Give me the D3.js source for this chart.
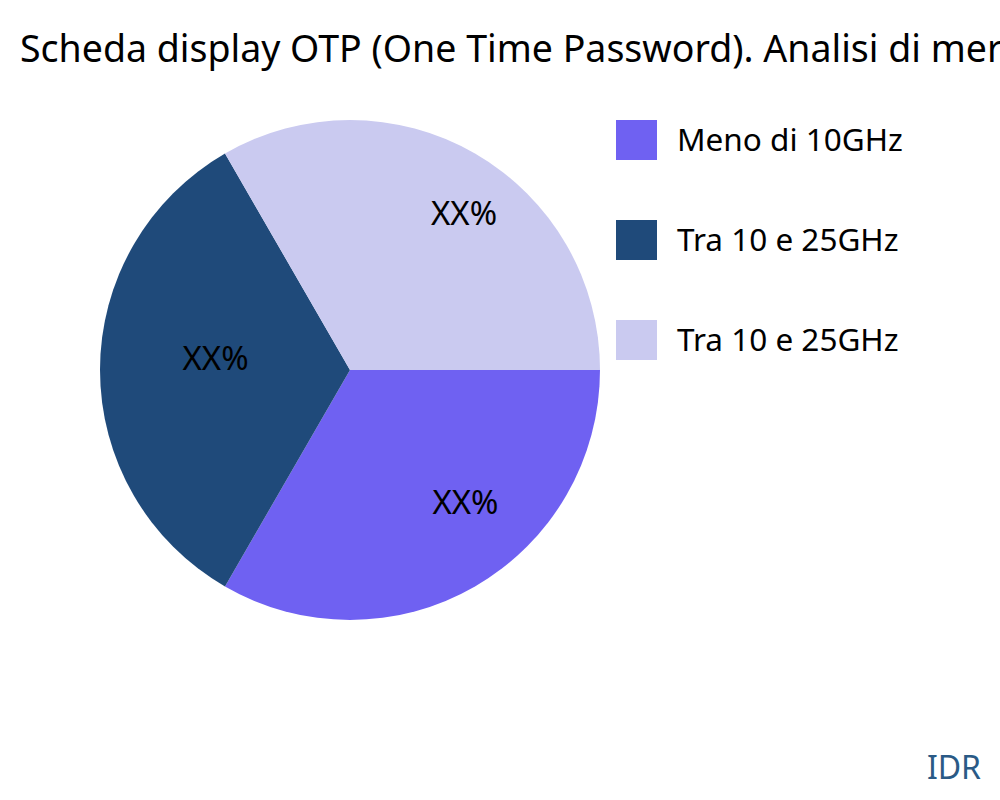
<!DOCTYPE html>
<html><head><meta charset="utf-8">
<script src="https://cdn.jsdelivr.net/npm/d3@7"></script>
<style>body{margin:0;background:#fff}svg{display:block}text{font-family:"Noto Sans","Open Sans",sans-serif}</style>
</head><body>
<svg id="c" width="1000" height="800"></svg>
<script>
const title = "Scheda display OTP (One Time Password). Analisi di mercato";
const categories = ["Meno di 10GHz", "Tra 10 e 25GHz", "Tra 10 e 25GHz"];
const values = [1, 1, 1];
const labels = ["XX%", "XX%", "XX%"];
const colors = ["#6f61f2", "#1f4a7a", "#cacaf0"];
const source = "IDR";

const svg = d3.select("#c");
const cx = 350, cy = 370, R = 250;
svg.append("text").attr("x", 20).attr("y", 62).attr("font-size", 37.5).attr("fill", "#000").text(title);

const pie = d3.pie().sort(null).value(d => d.v).startAngle(Math.PI / 2).endAngle(Math.PI / 2 + 2 * Math.PI);
const data = categories.map((c, i) => ({c, v: values[i], l: labels[i], col: colors[i]}));
const arcs = pie(data);
const arc = d3.arc().innerRadius(0).outerRadius(R);
const g = svg.append("g").attr("transform", `translate(${cx},${cy})`);
g.selectAll("path").data(arcs).join("path").attr("d", arc).attr("fill", d => d.data.col);

// label placement (plotly-like inside text): offset from slice mid-angle and radius
const labelLayout = [{da: -11 * Math.PI / 180, r: 176}, {da: 5 * Math.PI / 180, r: 135}, {da: 6 * Math.PI / 180, r: 194}];
g.selectAll("text.lbl").data(arcs).join("text").attr("class", "lbl")
  .attr("transform", (d, i) => {
    const a = (d.startAngle + d.endAngle) / 2 + labelLayout[i].da;
    const r = labelLayout[i].r;
    return `translate(${r * Math.sin(a)},${-r * Math.cos(a)})`;
  })
  .attr("text-anchor", "middle").attr("dy", "0.35em").attr("font-size", 33).attr("fill", "#000")
  .text(d => d.data.l);

const lg = svg.append("g").attr("transform", "translate(616,120)");
const items = lg.selectAll("g").data(data).join("g").attr("transform", (d, i) => `translate(0,${i * 100})`);
items.append("rect").attr("width", 41).attr("height", 40).attr("fill", d => d.col);
items.append("text").attr("x", 61).attr("y", 20).attr("dy", "0.35em").attr("font-size", 31.5).attr("fill", "#000").text(d => d.c);

svg.append("text").attr("x", 981).attr("y", 779).attr("text-anchor", "end").attr("font-size", 32).attr("fill", "#2a5a86").text(source);
</script>
</body></html>
